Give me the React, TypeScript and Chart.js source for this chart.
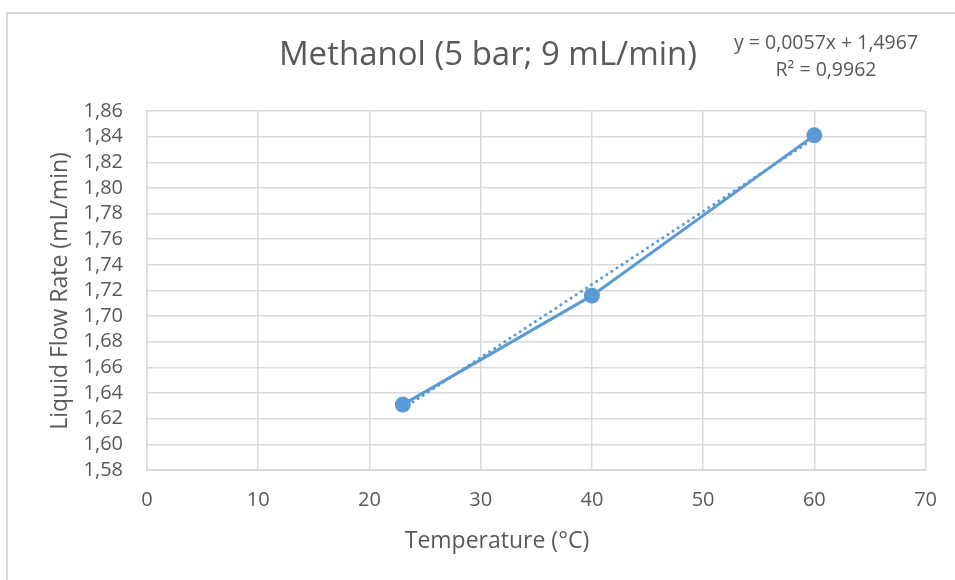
import React, { useEffect, useRef } from "react";
import { Chart, registerables } from "chart.js";

Chart.register(...registerables);

const temperatures = [23, 40, 60];
const flowRates = [1.631, 1.716, 1.841];
const trendX = [23, 60];
const trendY = [1.6278, 1.8387];
const titleText = "Methanol (5 bar; 9 mL/min)";
const equationLines = ["y = 0,0057x + 1,4967", "R² = 0,9962"];
const xTitle = "Temperature (°C)";
const yTitle = "Liquid Flow Rate (mL/min)";

const FONT = "'Open Sans', sans-serif";
const TEXT = "#595959";
const BLUE = "#5b9bd5";
const GRID = "#d9d9d9";

const textPlugin = {
  id: "texts",
  afterDraw(chart: any) {
    const ctx = chart.ctx;
    ctx.save();
    ctx.strokeStyle = GRID;
    ctx.lineWidth = 2;
    ctx.beginPath();
    ctx.moveTo(7, 600);
    ctx.lineTo(7, 13);
    ctx.lineTo(970, 13);
    ctx.stroke();
    ctx.fillStyle = TEXT;
    ctx.textAlign = "center";
    ctx.textBaseline = "middle";
    ctx.font = `33px ${FONT}`;
    ctx.fillText(titleText, 488, 56);
    ctx.font = `19.5px ${FONT}`;
    ctx.fillText(equationLines[0], 826, 43);
    ctx.fillText(equationLines[1], 826, 70);
    ctx.font = `23px ${FONT}`;
    ctx.fillText(xTitle, 497, 541);
    ctx.translate(60, 291);
    ctx.rotate(-Math.PI / 2);
    ctx.fillText(yTitle, 0, 0);
    ctx.restore();
  },
};

export default function App() {
  const ref = useRef<HTMLCanvasElement>(null);
  useEffect(() => {
    if (!ref.current) return;
    const chart = new Chart(ref.current, {
      type: "scatter",
      data: {
        datasets: [
          {
            data: trendX.map((x, i) => ({ x, y: trendY[i] })),
            showLine: true,
            borderColor: BLUE,
            borderWidth: 3,
            borderDash: [0.1, 6],
            borderCapStyle: "round",
            pointRadius: 0,
            order: 2,
          } as any,
          {
            data: temperatures.map((x, i) => ({ x, y: flowRates[i] })),
            showLine: true,
            borderColor: BLUE,
            backgroundColor: BLUE,
            borderWidth: 3,
            pointRadius: 8,
            pointBackgroundColor: BLUE,
            pointBorderWidth: 0,
            order: 1,
          },
        ],
      },
      options: {
        animation: false,
        responsive: false,
        layout: { padding: { top: 111, right: 29, left: 0, bottom: 0 } },
        plugins: { legend: { display: false }, tooltip: { enabled: false }, title: { display: false } },
        scales: {
          x: {
            type: "linear",
            min: 0,
            max: 70,
            ticks: { stepSize: 10, color: TEXT, font: { family: FONT, size: 20 }, padding: 18 },
            grid: { color: GRID, lineWidth: 1.5, drawTicks: false },
            border: { color: GRID, width: 2 },
            afterFit: (s: any) => { s.height = 110; },
          },
          y: {
            min: 1.58,
            max: 1.86,
            ticks: {
              stepSize: 0.02,
              autoSkip: false,
              color: TEXT,
              font: { family: FONT, size: 20 },
              padding: 24,
              callback: (v: any) => Number(v).toFixed(2).replace(".", ","),
            },
            grid: { color: GRID, lineWidth: 1.5, drawTicks: false },
            border: { color: GRID, width: 1.5 },
            afterFit: (s: any) => { s.width = 147; },
          },
        },
      },
      plugins: [textPlugin],
    });
    return () => chart.destroy();
  }, []);
  return (
    <div style={{ position: "absolute", left: 0, top: 0, width: 955, height: 580, background: "#fff" }}>
      <canvas ref={ref} width={955} height={580} style={{ width: 955, height: 580 }} />
    </div>
  );
}
